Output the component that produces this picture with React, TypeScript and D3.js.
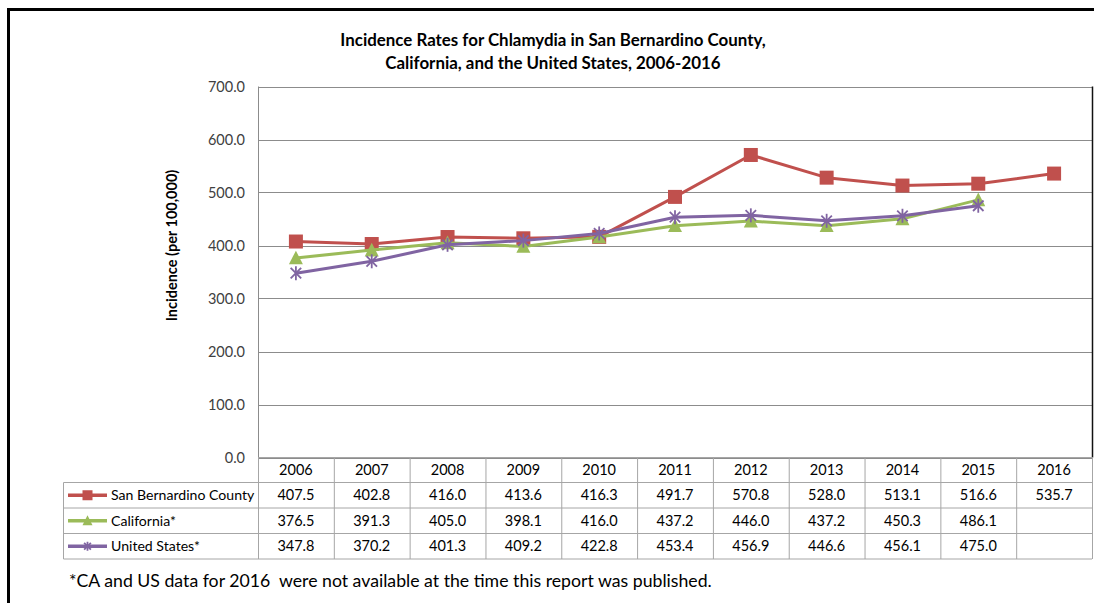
import React from "react";
import * as d3 from "d3";

const years = ["2006", "2007", "2008", "2009", "2010", "2011", "2012", "2013", "2014", "2015", "2016"];
const sanBernardino = [407.5, 402.8, 416.0, 413.6, 416.3, 491.7, 570.8, 528.0, 513.1, 516.6, 535.7];
const california = [376.5, 391.3, 405.0, 398.1, 416.0, 437.2, 446.0, 437.2, 450.3, 486.1, null];
const unitedStates = [347.8, 370.2, 401.3, 409.2, 422.8, 453.4, 456.9, 446.6, 456.1, 475.0, null];
const yTicks = [0, 100, 200, 300, 400, 500, 600, 700];
const titleLines = [
  "Incidence Rates for Chlamydia in San Bernardino County,",
  "California, and the United States, 2006-2016",
];
const yAxisTitle = "Incidence (per 100,000)";
const footnote = "*CA and US data for 2016  were not available at the time this report was published.";

type Series = { name: string; values: (number | null)[]; color: string; marker: "square" | "triangle" | "star" };
const series: Series[] = [
  { name: "San Bernardino County", values: sanBernardino, color: "#C0504D", marker: "square" },
  { name: "California*", values: california, color: "#9BBB59", marker: "triangle" },
  { name: "United States*", values: unitedStates, color: "#8064A2", marker: "star" },
];

const W = 1094;
const H = 603;
const FONT = "Lato, 'Open Sans', sans-serif";

function Marker({ type, x, y, color, s }: { type: string; x: number; y: number; color: string; s: number }) {
  if (type === "square") {
    return <rect x={x - s / 2} y={y - s / 2} width={s} height={s} fill={color} />;
  }
  if (type === "triangle") {
    const h = s * 0.9;
    return (
      <path
        d={`M${x},${y - h / 2 - 1} L${x + s / 2},${y + h / 2} L${x - s / 2},${y + h / 2} Z`}
        fill={color}
      />
    );
  }
  const r = s / 2;
  const d = r * 0.75;
  return (
    <g stroke={color} strokeWidth={1.8} fill="none">
      <line x1={x - d} y1={y - d} x2={x + d} y2={y + d} />
      <line x1={x - d} y1={y + d} x2={x + d} y2={y - d} />
      <line x1={x} y1={y - r} x2={x} y2={y + r} />
    </g>
  );
}

export default function App() {
  const plotL = 258;
  const plotR = 1092;
  const plotT = 86.5;
  const plotB = 457.5;
  const x = d3.scaleBand<string>().domain(years).range([plotL, plotR]).padding(0);
  const cx = (yr: string) => (x(yr) as number) + x.bandwidth() / 2;
  const y = d3.scaleLinear().domain([0, 700]).range([plotB, plotT]);

  const rowTops = [457.5, 482.5, 508, 533.5, 559];
  const tableL = 63.5;
  const gridColor = "#8c8c8c";
  const tableColor = "#a6a6a6";

  const lineGen = d3
    .line<{ yr: string; v: number | null }>()
    .defined((d) => d.v !== null)
    .x((d) => cx(d.yr))
    .y((d) => y(d.v as number));

  return (
    <svg width={W} height={H} style={{ position: "absolute", left: 0, top: 0, background: "#fff" }}>
      <rect x={0} y={0} width={W} height={H} fill="#fff" />
      {/* outer frame */}
      <line x1={8.5} y1={9.5} x2={W} y2={9.5} stroke="#000" strokeWidth={3} />
      <line x1={8.5} y1={8} x2={8.5} y2={H} stroke="#000" strokeWidth={3} />

      {/* title */}
      <text x={553} fontFamily={FONT} fontWeight="bold" fontSize={16.9} textAnchor="middle" fill="#000">
        <tspan x={553} y={46}>{titleLines[0]}</tspan>
        <tspan x={553} y={69}>{titleLines[1]}</tspan>
      </text>

      {/* gridlines */}
      {yTicks.map((t) => (
        <line key={t} x1={plotL} x2={plotR} y1={Math.round(y(t)) + 0.5} y2={Math.round(y(t)) + 0.5} stroke={gridColor} strokeWidth={1} />
      ))}
      <line x1={plotL + 0.5} x2={plotL + 0.5} y1={plotT} y2={plotB} stroke={gridColor} />
      <line x1={plotR + 0.5} x2={plotR + 0.5} y1={plotT} y2={plotB} stroke="#111" strokeWidth={1.5} />

      {/* y tick labels */}
      {yTicks.map((t) => (
        <text key={t} x={245} y={y(t)} dy="0.35em" textAnchor="end" fontFamily={FONT} fontSize={14.5} fill="#404040">
          {t.toFixed(1)}
        </text>
      ))}

      {/* y axis title */}
      <text
        transform={`translate(177,245.5) rotate(-90)`}
        textAnchor="middle"
        fontFamily={FONT}
        fontWeight="bold"
        fontSize={14.5}
        fill="#000"
      >
        {yAxisTitle}
      </text>

      {/* series */}
      {series.map((s) => {
        const pts = years.map((yr, i) => ({ yr, v: s.values[i] }));
        return (
          <g key={s.name}>
            <path d={lineGen(pts) || ""} fill="none" stroke={s.color} strokeWidth={3} strokeLinejoin="round" />
            {pts
              .filter((p) => p.v !== null)
              .map((p) => (
                <Marker key={p.yr} type={s.marker} x={cx(p.yr)} y={y(p.v as number)} color={s.color} s={14} />
              ))}
          </g>
        );
      })}

      {/* data table */}
      <g>
        {rowTops.slice(1).map((ry) => (
          <line key={ry} x1={tableL} x2={plotR} y1={ry} y2={ry} stroke={tableColor} />
        ))}
        <line x1={plotL} x2={plotR} y1={rowTops[0]} y2={rowTops[0]} stroke={tableColor} />
        <line x1={tableL} x2={tableL} y1={rowTops[1]} y2={rowTops[4]} stroke={tableColor} />
        {years.map((yr) => (
          <line key={yr} x1={(x(yr) as number) + 0.5} x2={(x(yr) as number) + 0.5} y1={rowTops[0]} y2={rowTops[4]} stroke={tableColor} />
        ))}
        <line x1={plotR + 0.5} x2={plotR + 0.5} y1={rowTops[0]} y2={rowTops[4]} stroke={tableColor} />
        {years.map((yr) => (
          <text key={yr} x={cx(yr)} y={(rowTops[0] + rowTops[1]) / 2} dy="0.35em" textAnchor="middle" fontFamily={FONT} fontSize={14.5} fill="#000">
            {yr}
          </text>
        ))}
        {series.map((s, si) => {
          const cy = (rowTops[si + 1] + rowTops[si + 2]) / 2;
          return (
            <g key={s.name}>
              <line x1={68} x2={107} y1={cy} y2={cy} stroke={s.color} strokeWidth={3.5} />
              <Marker type={s.marker} x={87.5} y={cy} color={s.color} s={s.marker === "star" ? 9 : 10} />
              <text x={111} y={cy} dy="0.35em" fontFamily={FONT} fontSize={14.1} fill="#000">
                {s.name}
              </text>
              {years.map((yr, i) =>
                s.values[i] === null ? null : (
                  <text key={yr} x={cx(yr)} y={cy} dy="0.35em" textAnchor="middle" fontFamily={FONT} fontSize={14.5} fill="#000">
                    {(s.values[i] as number).toFixed(1)}
                  </text>
                )
              )}
            </g>
          );
        })}
      </g>

      {/* footnote */}
      <text x={69} y={587} fontFamily={FONT} fontSize={17.7} fill="#000" style={{ whiteSpace: "pre" }} xmlSpace="preserve">
        {footnote}
      </text>
    </svg>
  );
}
